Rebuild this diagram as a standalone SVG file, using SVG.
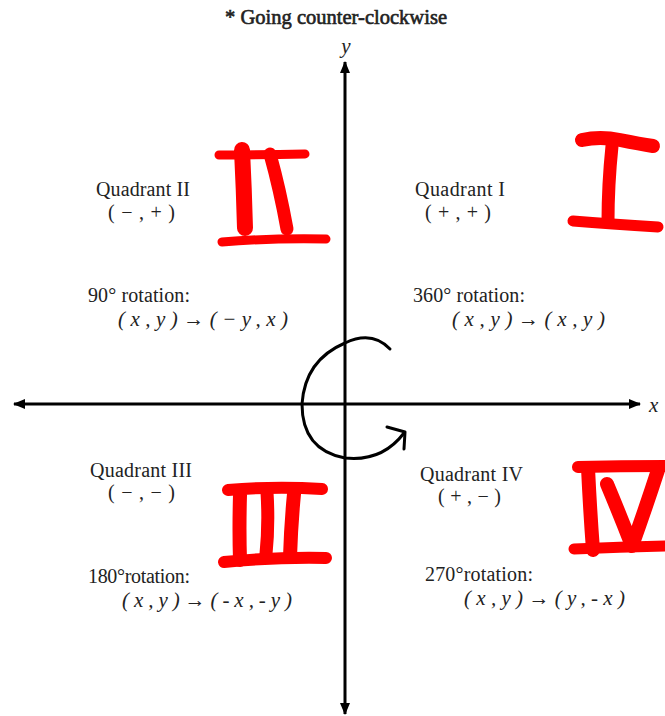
<svg xmlns="http://www.w3.org/2000/svg" width="665" height="716" viewBox="0 0 665 716">
<style>
.t{font-family:"Liberation Serif","Times New Roman",serif;fill:#222;font-size:20px}
.f{font-family:"Liberation Serif","Times New Roman",serif;fill:#222;font-size:21px;font-style:italic}
.ax{stroke:#000;stroke-width:3;fill:none}
.red{stroke:#f00;fill:none;stroke-linecap:round;stroke-linejoin:round}
</style>
<defs>
<marker id="ah" viewBox="0 0 12 10" refX="11" refY="5" markerWidth="12" markerHeight="10" markerUnits="userSpaceOnUse" orient="auto">
<path d="M0,0 L12,5 L0,10 Z" fill="#000"/>
</marker>
</defs>
<rect width="665" height="716" fill="#fff"/>
<text class="t" x="225" y="24" font-size="19" stroke="#222" stroke-width="0.6" textLength="222" lengthAdjust="spacingAndGlyphs">* Going counter-clockwise</text>
<g id="axes">
<line class="ax" x1="345" y1="404" x2="14" y2="404" marker-end="url(#ah)"/>
<line class="ax" x1="345" y1="404" x2="640" y2="404" marker-end="url(#ah)"/>
<line class="ax" x1="345" y1="404" x2="345" y2="62" marker-end="url(#ah)"/>
<line class="ax" x1="345" y1="404" x2="345" y2="714" marker-end="url(#ah)"/>
<text class="f" x="346" y="53" text-anchor="middle" font-size="23">y</text>
<text class="f" x="649" y="412" font-size="23">x</text>
</g>
<g id="rotation-arrow">
<path d="M390,349 Q372,330 345,343 Q305,360 302,404 Q302,450 345,458 Q382,462 404,433" stroke="#000" stroke-width="3" fill="none" stroke-linecap="round"/>
<path d="M387,427 L405,432 L404,449" stroke="#000" stroke-width="3" fill="none" stroke-linecap="round" stroke-linejoin="round"/>
</g>
<g id="quadrant-1">
<text class="t" x="415" y="196" textLength="90">Quadrant I</text>
<text class="t" x="425" y="219" textLength="66">(+,+)</text>
<text class="t" x="413" y="302" textLength="112">360° rotation:</text>
<text class="f" x="452" y="326" textLength="153">(x,y)→(x,y)</text>
</g>
<g id="quadrant-2">
<text class="t" x="96" y="196" textLength="94">Quadrant II</text>
<text class="t" x="108" y="219" textLength="67">(−,+)</text>
<text class="t" x="88" y="302" textLength="102">90° rotation:</text>
<text class="f" x="118" y="326" textLength="170">(x,y)→(−y,x)</text>
</g>
<g id="quadrant-3">
<text class="t" x="90" y="477" textLength="102">Quadrant III</text>
<text class="t" x="108" y="499" textLength="67">(−,−)</text>
<text class="t" x="88" y="583" textLength="102">180°rotation:</text>
<text class="f" x="122" y="607" textLength="170">(x,y)→(-x,-y)</text>
</g>
<g id="quadrant-4">
<text class="t" x="420" y="481" textLength="103">Quadrant IV</text>
<text class="t" x="438" y="503" textLength="63">(+,−)</text>
<text class="t" x="425" y="581" textLength="108">270°rotation:</text>
<text class="f" x="464" y="605" textLength="161">(x,y)→(y,-x)</text>
</g>
<g id="numeral-1">
<path class="red" stroke-width="14" d="M582,140 Q600,136 620,140 Q640,144 653,146"/>
<path class="red" stroke-width="13" d="M612,146 Q608,185 608,222"/>
<path class="red" stroke-width="11" d="M573,221 Q610,224 658,227"/>
</g>
<g id="numeral-2">
<path class="red" stroke-width="9" d="M219,155 Q260,155 305,154"/>
<path class="red" stroke-width="16" d="M242,150 Q244,190 245,228"/>
<path class="red" stroke-width="13" d="M270,154 Q280,190 287,229"/>
<path class="red" stroke-width="9" d="M222,242 Q270,238 326,239"/>
</g>
<g id="numeral-3">
<path class="red" stroke-width="12" d="M228,490 Q275,486 322,489"/>
<path class="red" stroke-width="14" d="M240,495 Q239,530 240,560"/>
<path class="red" stroke-width="13" d="M267,492 Q269,525 266,554"/>
<path class="red" stroke-width="14" d="M294,494 Q291,525 290,557"/>
<path class="red" stroke-width="12" d="M224,562 Q275,557 326,558"/>
</g>
<g id="numeral-4">
<path class="red" stroke-width="12" d="M578,467 Q620,466 665,466"/>
<path class="red" stroke-width="14" d="M588,468 Q590,510 593,550"/>
<path class="red" stroke-width="14" d="M607,484 Q620,515 632,546 Q645,510 658,470"/>
<path class="red" stroke-width="11" d="M574,549 Q620,547 665,546"/>
</g>
</svg>
